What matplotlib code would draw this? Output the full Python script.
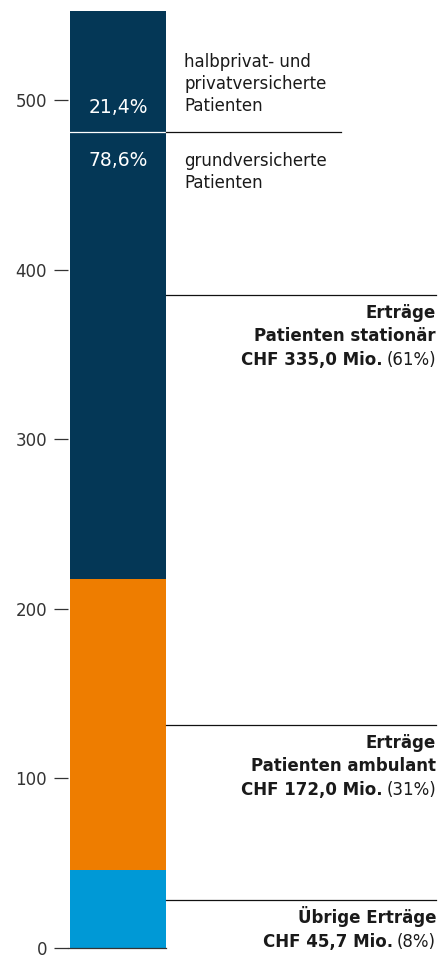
import matplotlib
matplotlib.use("Agg")
import matplotlib.pyplot as plt
from matplotlib.transforms import blended_transform_factory

plt.rcParams['font.family'] = ['DejaVu Sans']

# Erträge in Mio. CHF (von unten nach oben)
segments = ["Übrige Erträge", "Erträge Patienten ambulant", "Erträge Patienten stationär"]
values = [45.7, 172.0, 335.0]
shares = ["(8%)", "(31%)", "(61%)"]
colors = ["#0099D6", "#EE7D00", "#043756"]
bold_head = [["Übrige Erträge"], ["Erträge", "Patienten ambulant"], ["Erträge", "Patienten stationär"]]
bold_amount = ["CHF 45,7 Mio.", "CHF 172,0 Mio.", "CHF 335,0 Mio."]

# Aufteilung stationär
split_pct = [78.6, 21.4]
split_lower = ["grundversicherte", "Patienten"]
split_upper = ["halbprivat- und", "privatversicherte", "Patienten"]
yticks = [0, 100, 200, 300, 400, 500]

W, H = 441, 956
TXT = '#1a1a1a'
fig = plt.figure(figsize=(W / 100, H / 100), dpi=100)
ax = fig.add_axes([68 / W, 8 / H, (166 - 68) / W, (948 - 10.6) / H])

bottom = 0
bottoms = []
for v, c in zip(values, colors):
    ax.bar(0, v, width=1, bottom=bottom, color=c, linewidth=0)
    bottoms.append(bottom)
    bottom += v
total = bottom

ax.set_xlim(-0.52, 0.5)
ax.set_ylim(0, total)
ax.set_xticks([])
ax.set_yticks(yticks)
ax.tick_params(axis='y', length=10, width=0.9, color='#333333', pad=5,
               labelsize=12, labelcolor='#333333')
for s in ['top', 'right', 'left']:
    ax.spines[s].set_visible(False)
ax.spines['bottom'].set_linewidth(0.9)
ax.spines['bottom'].set_color('#333333')

blend = blended_transform_factory(fig.transFigure, ax.transData)
x_bar_l, x_bar_r, x_end = 70 / W, 166 / W, 436 / W


def put(txt, x, y, dy, **kw):
    # dy: Pixelabstand der Grundlinie (positiv = nach oben)
    return ax.annotate(txt, xy=(x, y), xycoords=blend, xytext=(0, dy),
                       textcoords='offset pixels', va='baseline', **kw)


# Trennlinie grund / privat
y_split = bottoms[2] + values[2] * split_pct[0] / 100
ax.plot([x_bar_l, x_bar_r], [y_split, y_split], transform=blend, color='white',
        lw=0.9, clip_on=False)
ax.plot([x_bar_r, 341 / W], [y_split, y_split], transform=blend, color='#111111',
        lw=0.9, clip_on=False)
x_mid = 118 / W
put(f"{split_pct[1]:.1f}%".replace('.', ','), x_mid, y_split, 19,
    ha='center', color='white', fontsize=13.5)
put(f"{split_pct[0]:.1f}%".replace('.', ','), x_mid, y_split, -34,
    ha='center', color='white', fontsize=13.5)
for k, line in enumerate(split_upper):
    put(line, 184 / W, y_split, 21 + 22 * (len(split_upper) - 1 - k),
        ha='left', color=TXT, fontsize=12)
for k, line in enumerate(split_lower):
    put(line, 184 / W, y_split, -34 - 22 * k, ha='left', color=TXT, fontsize=12)

# Beschriftungen rechts
anchors = [max(bottoms[i] + values[i] / 2, 28.3) for i in range(3)]
for i in range(3):
    ya = anchors[i]
    ax.plot([x_bar_r, x_end], [ya, ya], transform=blend, color='#111111',
            lw=0.9, clip_on=False)
    off = -23
    for line in bold_head[i]:
        put(line, x_end, ya, off, ha='right', fontsize=12, fontweight='bold', color=TXT)
        off -= 23.5
    t = put(shares[i], x_end, ya, off, ha='right', fontsize=12, color=TXT)
    ax.annotate(bold_amount[i], xy=(0, 0), xycoords=t, xytext=(-4, 0),
                textcoords='offset pixels', ha='right', va='bottom',
                fontsize=12, fontweight='bold', color=TXT)

fig.savefig("out.png", dpi=100)
